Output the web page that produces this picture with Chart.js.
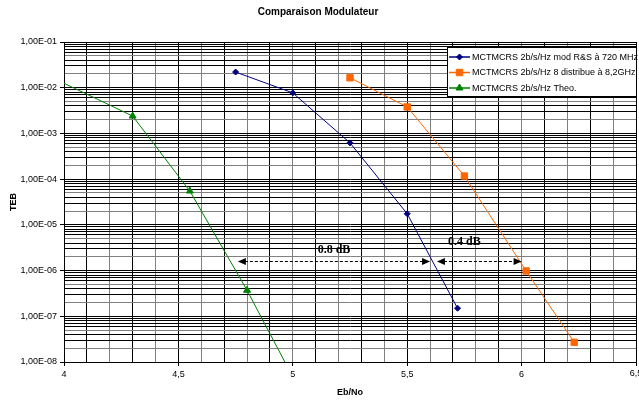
<!DOCTYPE html>
<html>
<head>
<meta charset="utf-8">
<script src="https://cdn.jsdelivr.net/npm/chart.js@4.4.1/dist/chart.umd.min.js"></script>
<style>
html,body{margin:0;padding:0;background:#fff;}
#wrap{width:639px;height:400px;position:relative;}
</style>
</head>
<body>
<div id="wrap"><canvas id="c" width="639" height="400"></canvas></div>
<script>
// ---- data ----
const seriesNames = [
  'MCTMCRS 2b/s/Hz mod R&S à 720 MHz',
  'MCTMCRS 2b/s/Hz 8 distribue à 8,2GHz',
  'MCTMCRS 2b/s/Hz Theo.'
];
const ebnoMod  = [4.75, 5.0, 5.25, 5.5, 5.72];
const tebMod   = [2.2e-2, 7.7e-3, 6.2e-4, 1.75e-5, 1.5e-7];
const ebnoDist = [5.25, 5.5, 5.75, 6.02, 6.23];
const tebDist  = [1.65e-2, 3.8e-3, 1.17e-4, 9.8e-7, 2.7e-8];
const ebnoTheo = [4.0, 4.3, 4.55, 4.8, 5.0];
const tebTheo  = [1.25e-2, 2.4e-3, 5.5e-5, 3.7e-7, 4.7e-9];

const xTickValues = [4,4.1,4.2,4.3,4.4,4.5,4.6,4.7,4.8,4.9,5,5.1,5.2,5.3,5.4,5.5,5.6,5.7,5.8,5.9,6,6.1,6.2,6.3,6.4,6.5];
const xEdgeLabel = 6.5;   // last x label, drawn by hand so it may run off the canvas as in the reference
const yDecades = [-8,-7,-6,-5,-4,-3,-2,-1];
const yMantissas = [1,2,3,4,5,6,7,8,9];

// dB gap annotations
const gapFrom   = [4.76, 5.63];
const gapTo     = [5.60, 6.00];
const gapTeb    = 1.6e-6;
const gapLabels = ['0.8 dB', '0.4 dB'];
const gapLabelX = [5.18, 5.75];
const gapLabelY = [2.9e-6, 4.2e-6];

const colors = ['#000080', '#FF6600', '#008000'];
const styles = ['rectRot', 'rect', 'triangle'];
const radii  = [3, 4.5, 4];

function pts(xs, ys){ return xs.map((x,i)=>({x:x, y:ys[i]})); }

const yTickVals = [];
yDecades.forEach(d => { if (d < -1) yMantissas.forEach(m => yTickVals.push(m*Math.pow(10,d))); else yTickVals.push(Math.pow(10,d)); });

function isDecade(v){ const l = Math.log10(v); return Math.abs(l - Math.round(l)) < 1e-6; }
function isHalf(v){ return Math.abs(v*2 - Math.round(v*2)) < 1e-6; }
function fmtX(v){ return String(Math.round(v*10)/10).replace('.', ','); }

const FONT = "'Liberation Sans', Arial, sans-serif";

const gapPlugin = {
  id: 'gaps',
  afterDatasetsDraw(chart){
    const ctx = chart.ctx, xs = chart.scales.x, ys = chart.scales.y;
    ctx.save();
    const y = Math.round(ys.getPixelForValue(gapTeb)) + 0.5;
    for (let i=0;i<gapFrom.length;i++){
      const x1 = xs.getPixelForValue(gapFrom[i]);
      const x2 = xs.getPixelForValue(gapTo[i]);
      ctx.strokeStyle = '#000'; ctx.lineWidth = 1; ctx.setLineDash([3,2]);
      ctx.beginPath(); ctx.moveTo(x1+7, y); ctx.lineTo(x2-7, y); ctx.stroke();
      ctx.setLineDash([]);
      ctx.fillStyle = '#000';
      ctx.beginPath(); ctx.moveTo(x1, y); ctx.lineTo(x1+8, y-3.5); ctx.lineTo(x1+8, y+3.5); ctx.closePath(); ctx.fill();
      ctx.beginPath(); ctx.moveTo(x2, y); ctx.lineTo(x2-8, y-3.5); ctx.lineTo(x2-8, y+3.5); ctx.closePath(); ctx.fill();
      ctx.font = "bold 12px 'Liberation Serif', 'Times New Roman', serif";
      ctx.textAlign = 'center'; ctx.textBaseline = 'middle';
      ctx.fillText(gapLabels[i], xs.getPixelForValue(gapLabelX[i]), ys.getPixelForValue(gapLabelY[i]));
    }
    // last x tick label
    ctx.font = '9px ' + FONT; ctx.fillStyle = '#000';
    ctx.textAlign = 'center'; ctx.textBaseline = 'top';
    ctx.fillText(fmtX(xEdgeLabel), xs.getPixelForValue(xEdgeLabel), xs.top + 7);
    ctx.restore();
  }
};

const legendPlugin = {
  id: 'boxLegend',
  afterDraw(chart){
    const ctx = chart.ctx, a = chart.chartArea;
    ctx.save();
    const left = a.right - 189, top = a.top + 5, w = 189, h = 49;
    ctx.fillStyle = '#fff';
    ctx.fillRect(left, top, w, h);
    ctx.strokeStyle = '#000'; ctx.lineWidth = 1;
    ctx.strokeRect(Math.round(left)+0.5, Math.round(top)+0.5, w, h);
    ctx.font = '9px ' + FONT;
    ctx.textBaseline = 'middle'; ctx.textAlign = 'left';
    for (let i=0;i<seriesNames.length;i++){
      const yy = top + 10 + i*15.5;
      ctx.strokeStyle = colors[i]; ctx.fillStyle = colors[i]; ctx.lineWidth = 1.5;
      ctx.beginPath(); ctx.moveTo(left+2, yy); ctx.lineTo(left+23, yy); ctx.stroke();
      ctx.lineWidth = 1;
      Chart.helpers.drawPoint(ctx, {pointStyle: styles[i], radius: radii[i], rotation: 0, borderWidth: 1}, left+12.5, yy);
      ctx.fillStyle = '#000';
      ctx.fillText(seriesNames[i], left+25, yy+0.5);
    }
    ctx.restore();
  }
};

const datasets = [
  {data: pts(ebnoMod, tebMod)},
  {data: pts(ebnoDist, tebDist)},
  {data: pts(ebnoTheo, tebTheo)}
].map((d,i)=>Object.assign(d, {
  label: seriesNames[i],
  borderColor: colors[i], backgroundColor: colors[i],
  borderWidth: 1, pointStyle: styles[i],
  pointRadius: (c)=> (i===2 && c.dataIndex===0) ? 0 : radii[i],
  pointBorderWidth: 1,
  pointHoverRadius: radii[i], tension: 0, fill: false
}));

new Chart(document.getElementById('c'), {
  type: 'line',
  data: {datasets},
  plugins: [gapPlugin, legendPlugin],
  options: {
    responsive: false, animation: false, devicePixelRatio: 1,
    layout: {autoPadding: false, padding: {left: 0, right: 3, top: 0, bottom: 1}},
    plugins: {
      legend: {display: false}, tooltip: {enabled: false},
      title: {display: true, text: 'Comparaison Modulateur', color: '#000',
        font: {family: FONT, size: 10, weight: 'bold'}, padding: {top: 6, bottom: 24}}
    },
    scales: {
      x: {
        type: 'linear', min: 4, max: 6.5,
        afterBuildTicks(s){ s.ticks = xTickValues.map(v=>({value:v})); },
        afterFit(s){ s.height = 37; },
        ticks: {autoSkip: false, maxRotation: 0, color: '#000', padding: 3,
          font: {family: FONT, size: 9},
          callback: (v)=> (isHalf(v) && Math.abs(v - xEdgeLabel) > 1e-6) ? fmtX(v) : ''},
        grid: {
          color: (c)=> (Math.round(c.tick.value*10) % 2 === 1) ? '#000' : '#808080',
          lineWidth: 1, tickLength: 4,
          tickColor: (c)=> isHalf(c.tick.value) ? '#000' : 'rgba(0,0,0,0)'
        },
        border: {color: '#000', width: 1},
        title: {display: true, text: 'Eb/No', color: '#000', font: {family: FONT, size: 9, weight: 'bold'}, padding: {top: 2, bottom: 1}}
      },
      y: {
        type: 'logarithmic', min: 1e-8, max: 1e-1,
        afterBuildTicks(s){ s.ticks = yTickVals.map(v=>({value:v})); },
        afterFit(s){ s.width = 64; },
        ticks: {autoSkip: false, color: '#000', padding: 3, font: {family: FONT, size: 9},
          callback: (v)=> isDecade(v) ? '1,00E-0' + Math.round(-Math.log10(v)) : ''},
        grid: {
          color: (c)=> { const v = c.tick.value; if (isDecade(v)) return '#000'; const m = Math.round(v/Math.pow(10, Math.floor(Math.log10(v)+1e-9))); return (m===2||m===5) ? '#808080' : '#000'; },
          lineWidth: 1, tickLength: 4,
          tickColor: (c)=> isDecade(c.tick.value) ? '#000' : 'rgba(0,0,0,0)'
        },
        border: {color: '#000', width: 1},
        title: {display: true, text: 'TEB', color: '#000', font: {family: FONT, size: 9, weight: 'bold'}, padding: {top: 8, bottom: 2}}
      }
    }
  }
});
</script>
</body>
</html>
